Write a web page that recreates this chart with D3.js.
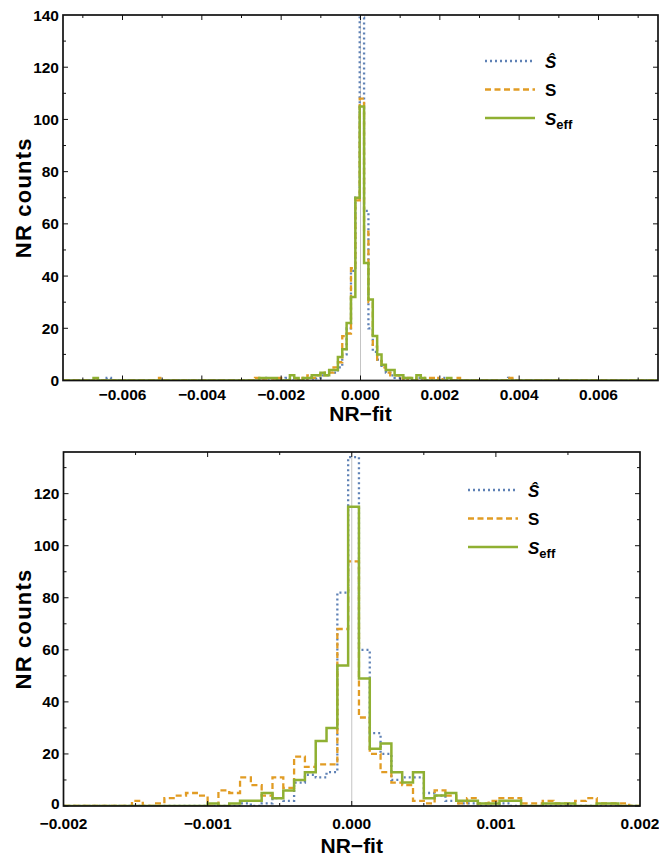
<!DOCTYPE html>
<html lang="en">
<head>
	<meta charset="UTF-8"/>
	<title>NR - fit histograms</title>
	<script src="https://d3js.org/d3.v7.min.js"></script>
	<style>
		body { margin:0; background:#fff; }
		text { font-family:"Liberation Sans", Arial, sans-serif; font-weight:bold; fill:#000; }
	</style>
</head>
<body>
<script>

	var w = 659;
	var h = 857;

	//------------ data: counts per bin ------------
	// top panel: bins of width 0.00011, bin k starts at -0.00002 + k*0.00011, k from -62
	var topKMin = -62;
	var topBinStart = -0.00002;
	var topBinWidth = 0.00011;
	var topTicks = [-0.006,-0.004,-0.002,0,0.002,0.004,0.006];
	var topCountTicks = [0,20,40,60,80,100,120,140];

	var topShat = [0,0,0,0,1,0,0,0,0,0,   0,0,0,0,0,0,0,0,0,0,   0,0,0,0,0,0,0,0,0,0,
		0,0,0,0,0,0,0,0,0,0,   1,0,0,0,0,1,0,0,0,0,   1,0,1,2,2,4,3,5,10,20,
		42,70,139,65,20,11,8,5,3,2,   1,1,1,0,0,1,0,0,0,0,   0,1,0,0,0,0,0,0,0,0,   0,0,0,0,0,0,1,0];
	var topS = [0,0,0,0,0,0,0,0,0,0,   0,0,0,0,0,0,1,0,0,0,   0,0,0,0,0,0,0,0,0,0,
		0,0,0,0,0,0,0,0,1,0,   0,0,0,1,0,0,0,0,1,0,   2,1,2,3,2,3,5,7,17,18,
		43,69,108,57,30,13,8,5,3,2,   2,1,0,1,1,0,0,1,1,0,   1,0,0,0,1,0,0,0,0,0,   0,0,0,0,0,0,1,0];
	var topSeff = [0,1,0,0,0,0,0,0,0,0,   0,0,0,0,0,0,0,0,0,0,   0,0,0,0,0,0,0,0,0,0,
		0,0,0,0,0,0,0,0,0,1,   1,1,1,0,0,0,2,1,0,1,   1,2,2,3,2,4,4,9,12,22,
		32,70,105,45,31,17,10,6,4,4,   2,2,1,1,0,2,1,0,0,0,   0,0,1,0,0,0,0,0,0,0,   0,0,0,0,0,0,0,0];

	// bottom panel: bins of width 0.000075, bin k starts at -0.000025 + k*0.000075, k from -26
	var botKMin = -26;
	var botBinStart = -0.000025;
	var botBinWidth = 0.000075;
	var botTicks = [-0.002,-0.001,0,0.001,0.002];
	var botCountTicks = [0,20,40,60,80,100,120];

	var botShat = [0,0,0,0,0,0,0,0,0,0,   0,0,0,0,0,0,1,0,1,3,
		2,9,12,11,13,82,134,60,28,20,   10,11,11,5,4,2,1,1,0,0,   1,0,0,0,0,0,0,0,0,0,   0,0];
	var botS = [0,0,0,0,0,0,2,0,1,3,   4,5,4,0,6,5,11,8,4,11,
		7,19,15,16,16,68,94,34,20,13,   9,8,2,1,6,4,1,3,1,2,   3,3,1,1,2,1,1,2,3,1,   1,1];
	var botSeff = [0,0,0,0,0,0,0,0,0,0,   0,0,0,1,0,1,2,2,5,3,
		6,10,13,25,30,54,115,49,22,24,   13,9,13,3,4,5,2,2,1,1,   2,2,0,0,1,1,1,0,0,1,   1,0];

	var colShat = "#5e81b5";
	var colS = "#e19c24";
	var colSeff = "#8fb032";
	var dashShat = "2,3";
	var dashS = "6,3.5";

	var svg = d3.select("body")
				.append("svg")
				.attr("width",w)
				.attr("height",h);

	var defs = svg.append("defs");

	//------------ one histogram panel ------------
	function drawPanel(p) {
		var x = d3.scaleLinear().domain(p.xDomain).range([p.left,p.right]);
		var y = d3.scaleLinear().domain(p.yDomain).range([p.bottom,p.top]);

		defs.append("clipPath").attr("id",p.id)
			.append("rect")
			.attr("x",p.left).attr("y",p.top - 2)
			.attr("width",p.right - p.left).attr("height",p.bottom - p.top + 2);

		var g = svg.append("g");

		// zero line
		g.append("line")
			.attr("x1",x(0)).attr("x2",x(0))
			.attr("y1",p.top).attr("y2",p.bottom)
			.attr("stroke","#c4c4c4")
			.attr("stroke-width",1);

		// step lines
		var line = d3.line()
					.x(function(d){ return x(d[0]); })
					.y(function(d){ return y(d[1]); })
					.curve(d3.curveStepAfter);

		var series = [
			{ counts:p.shat, col:colShat, dash:dashShat, sw:2.3 },
			{ counts:p.s,    col:colS,    dash:dashS,    sw:2.3 },
			{ counts:p.seff, col:colSeff, dash:null,     sw:2.5 }
		];

		series.forEach(function(s){
			var pts = [[p.xDomain[0],0]];
			s.counts.forEach(function(c,i){
				pts.push([p.binStart + (i + p.kMin) * p.binWidth, c]);
			});
			pts.push([p.binStart + (s.counts.length + p.kMin) * p.binWidth, 0]);
			pts.push([p.xDomain[1],0]);

			g.append("path")
				.attr("d",line(pts))
				.attr("clip-path","url(#" + p.id + ")")
				.attr("fill","none")
				.attr("stroke",s.col)
				.attr("stroke-width",s.sw)
				.attr("stroke-dasharray",s.dash);
		});

		// frame
		g.append("rect")
			.attr("x",p.left).attr("y",p.top)
			.attr("width",p.right - p.left).attr("height",p.bottom - p.top)
			.attr("fill","none")
			.attr("stroke","#111")
			.attr("stroke-width",1.7);

		// ticks on all four sides
		var xStep = p.xTicks[1] - p.xTicks[0];
		var xMinor = d3.range(p.xTicks[0] - xStep, p.xTicks[p.xTicks.length-1] + xStep, xStep/2)
						.filter(function(v){ return v > p.xDomain[0] && v < p.xDomain[1]; });
		var yStep = p.yTicks[1] - p.yTicks[0];
		var yMinor = d3.range(0, p.yDomain[1], yStep/2);

		xMinor.forEach(function(v){
			var len = (Math.abs(Math.round(v/xStep) - v/xStep) < 0.01) ? 5 : 3;
			g.append("line").attr("x1",x(v)).attr("x2",x(v))
				.attr("y1",p.bottom).attr("y2",p.bottom - len)
				.attr("stroke","#111").attr("stroke-width",1);
			g.append("line").attr("x1",x(v)).attr("x2",x(v))
				.attr("y1",p.top).attr("y2",p.top + len)
				.attr("stroke","#111").attr("stroke-width",1);
		});
		yMinor.forEach(function(v){
			var len = (v % yStep === 0) ? 5 : 3;
			g.append("line").attr("x1",p.left).attr("x2",p.left + len)
				.attr("y1",y(v)).attr("y2",y(v))
				.attr("stroke","#111").attr("stroke-width",1);
			g.append("line").attr("x1",p.right).attr("x2",p.right - len)
				.attr("y1",y(v)).attr("y2",y(v))
				.attr("stroke","#111").attr("stroke-width",1);
		});

		// tick labels
		g.selectAll(".xlab")
			.data(p.xTicks)
			.enter()
			.append("text")
			.attr("x",function(d){ return x(d); })
			.attr("y",p.bottom + p.xLabOff)
			.attr("text-anchor","middle")
			.attr("font-size",15.5)
			.text(function(d){ return d3.format(".3f")(d).replace("-","\u2212"); });

		g.selectAll(".ylab")
			.data(p.yTicks)
			.enter()
			.append("text")
			.attr("x",p.left - 4)
			.attr("y",function(d){ return y(d) + (d === 0 ? p.zeroLabOff : 5.5); })
			.attr("text-anchor","end")
			.attr("font-size",15.5)
			.text(function(d){ return d; });

		// axis titles
		g.append("text")
			.attr("x",(p.left + p.right)/2)
			.attr("y",p.xTitleY)
			.attr("text-anchor","middle")
			.attr("font-size",21)
			.text("NR\u2212fit");

		g.append("text")
			.attr("transform","translate(" + 31 + "," + (p.top + p.bottom)/2 + ") rotate(-90)")
			.attr("text-anchor","middle")
			.attr("font-size",22)
			.attr("letter-spacing",1.2)
			.text("NR counts");

		// legend
		var leg = [
			{ col:colShat, dash:dashShat, label:"hat" },
			{ col:colS,    dash:dashS,    label:"s" },
			{ col:colSeff, dash:null,     label:"eff" }
		];
		leg.forEach(function(d,i){
			var ly = p.legY + i * 28.5;
			g.append("line")
				.attr("x1",p.legX).attr("x2",p.legX + 50)
				.attr("y1",ly).attr("y2",ly)
				.attr("stroke",d.col)
				.attr("stroke-width",2.3)
				.attr("stroke-dasharray",d.dash);
			var t = g.append("text")
				.attr("x",p.legX + 60)
				.attr("y",ly + 6.5)
				.attr("font-size",17);
			if (d.label == "hat") {
				t.attr("font-style","italic").text("\u015C");
			} else if (d.label == "s") {
				t.text("S");
			} else {
				t.append("tspan").attr("font-style","italic").text("S");
				t.append("tspan").attr("font-size",13).attr("dy",4).text("eff");
			}
		});
	}

	//------------ top panel ------------
	drawPanel({
		id:"clipTop",
		left:63, right:658, top:15, bottom:380.5,
		xDomain:[-0.0075,0.0075], yDomain:[0,140],
		xTicks:topTicks, yTicks:topCountTicks,
		kMin:topKMin, binStart:topBinStart, binWidth:topBinWidth,
		shat:topShat, s:topS, seff:topSeff,
		xLabOff:19, zeroLabOff:5.5,
		xTitleY:421, legX:485, legY:61
	});

	//------------ bottom panel ------------
	drawPanel({
		id:"clipBot",
		left:63.5, right:640, top:452, bottom:806,
		xDomain:[-0.002,0.002], yDomain:[0,136],
		xTicks:botTicks, yTicks:botCountTicks,
		kMin:botKMin, binStart:botBinStart, binWidth:botBinWidth,
		shat:botShat, s:botS, seff:botSeff,
		xLabOff:23, zeroLabOff:2.5,
		xTitleY:853, legX:468, legY:490
	});

</script>
</body>
</html>
